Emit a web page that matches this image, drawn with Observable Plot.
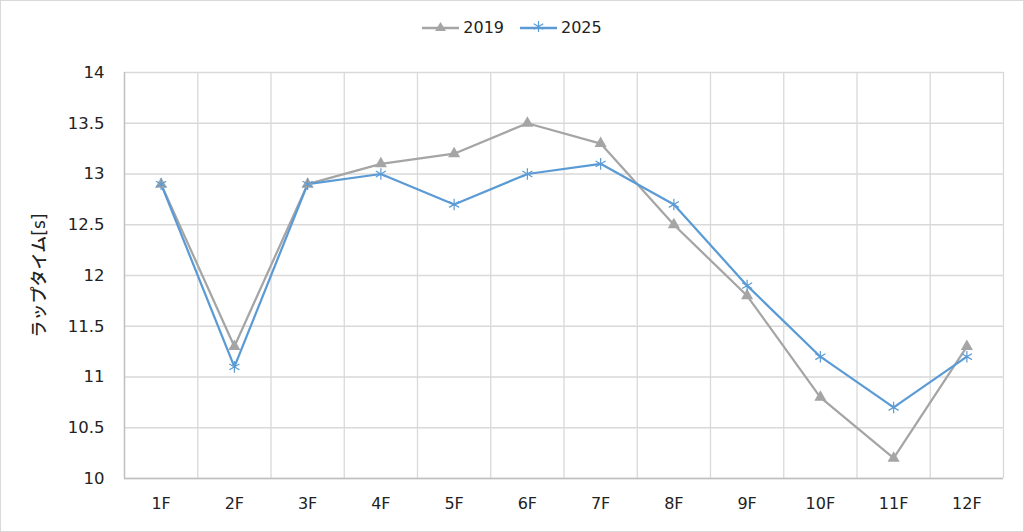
<!DOCTYPE html>
<html><head><meta charset="utf-8">
<script src="https://cdn.jsdelivr.net/npm/d3@7"></script>
<script src="https://cdn.jsdelivr.net/npm/@observablehq/plot@0.6"></script>
<style>
body{margin:0;background:#fff;}
#wrap{width:1022px;height:530px;border:1px solid #d9d9d9;font-family:"DejaVu Sans","Noto Sans CJK JP",sans-serif;position:relative;}
#legend{height:52px;display:flex;justify-content:center;align-items:center;gap:16px;font-size:16px;color:#222;}
#legend .it{display:flex;align-items:center;gap:4px;}
</style></head>
<body><div id="wrap"><div id="legend"></div><div id="chart"></div></div>
<script>
const categories = ["1F","2F","3F","4F","5F","6F","7F","8F","9F","10F","11F","12F"];
const series2019 = [12.9,11.3,12.9,13.1,13.2,13.5,13.3,12.5,11.8,10.8,10.2,11.3];
const series2025 = [12.9,11.1,12.9,13.0,12.7,13.0,13.1,12.7,11.9,11.2,10.7,11.2];
const yTicks = [10,10.5,11,11.5,12,12.5,13,13.5,14];
const seriesNames = ["2019","2025"];
const colors = ["#a5a5a5","#5b9bd5"];

const data = [];
categories.forEach((c,i)=>{
  data.push({cat:c, i:i+0.5, v:series2019[i], s:"2019"});
  data.push({cat:c, i:i+0.5, v:series2025[i], s:"2025"});
});
const d19 = data.filter(d=>d.s==="2019");
const d25 = data.filter(d=>d.s==="2025");
const font = '"DejaVu Sans","Noto Sans CJK JP",sans-serif';

const chart = Plot.plot({
  width: 1022, height: 478,
  marginLeft: 123, marginRight: 20, marginTop: 19, marginBottom: 53,
  style: {fontFamily: font, fontSize: "16px", color: "#222", background: "#fff"},
  x: {type: "linear", domain: [0, categories.length], axis: null},
  y: {domain: [10, 14], axis: null},
  marks: [
    Plot.gridY(yTicks, {stroke: "#d9d9d9", strokeOpacity: 1, strokeWidth: 1.3}),
    Plot.gridX(d3.range(1, categories.length + 1), {stroke: "#d9d9d9", strokeOpacity: 1, strokeWidth: 1.3}),
    Plot.ruleX([0], {stroke: "#bfbfbf", strokeWidth: 1.5}),
    Plot.ruleY([10], {stroke: "#bfbfbf", strokeWidth: 1.5}),
    Plot.axisY(yTicks, {tickSize: 0, tickPadding: 20, tickFormat: d => String(d), fontSize: 16.5, label: null}),
    Plot.axisX(categories.map((c,i)=>i+0.5), {tickSize: 0, tickPadding: 19, tickFormat: d => categories[Math.floor(d)], fontSize: 16, label: null}),
    Plot.line(d19, {x: "i", y: "v", stroke: colors[0], strokeWidth: 2.25}),
    Plot.line(d25, {x: "i", y: "v", stroke: colors[1], strokeWidth: 2.25}),
    Plot.dot(d19, {x: "i", y: "v", symbol: "triangle", fill: colors[0], r: 4.5}),
    Plot.dot(d25, {x: "i", y: "v", symbol: "asterisk", stroke: colors[1], strokeWidth: 1.2, r: 5.5}),
    Plot.text(["ラップタイム[s]"], {frameAnchor: "left", textAnchor: "middle", dx: -85, rotate: -90, fontSize: 17, fontWeight: 500, fill: "#222"})
  ]
});
document.getElementById("chart").appendChild(chart);

// legend
const leg = document.getElementById("legend");
seriesNames.forEach((n,k)=>{
  const it = document.createElement("div"); it.className="it";
  const mark = k===0
    ? `<polygon points="18.5,1 24,10 13,10" fill="${colors[0]}"/>`
    : `<g stroke="${colors[1]}" stroke-width="1.2"><line x1="18.5" y1="0" x2="18.5" y2="11"/><line x1="13.7" y1="2.7" x2="23.3" y2="8.3"/><line x1="13.7" y1="8.3" x2="23.3" y2="2.7"/></g>`;
  it.innerHTML = `<svg width="37" height="12"><line x1="0" y1="7" x2="37" y2="7" stroke="${colors[k]}" stroke-width="2.5"/>${mark}</svg><span>${n}</span>`;
  leg.appendChild(it);
});
</script></body></html>
